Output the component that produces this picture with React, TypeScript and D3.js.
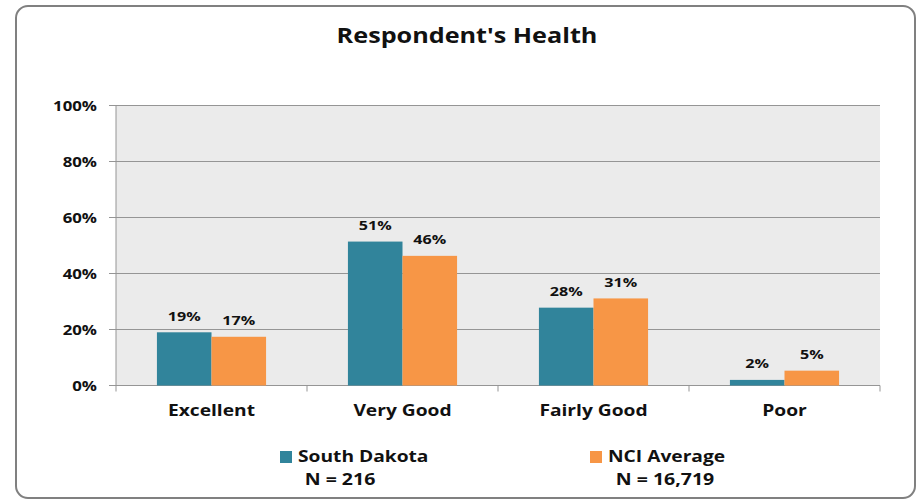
import * as d3 from 'd3';
import { useEffect, useRef } from 'react';

const categories = ['Excellent', 'Very Good', 'Fairly Good', 'Poor'];
const southDakota = [19, 51.4, 27.8, 2];
const nciAverage = [17.4, 46.3, 31.1, 5.3];
const seriesNames = ['South Dakota', 'NCI Average'];
const seriesN = ['N = 216', 'N = 16,719'];
const yTicks = [0, 20, 40, 60, 80, 100];

const colors = ['#31849b', '#f79646'];
const font = "'Open Sans', 'DejaVu Sans', sans-serif";

export default function App() {
  const ref = useRef<HTMLDivElement>(null);

  const width = 921;
  const height = 502;
  const marginTop = 105.5;
  const marginLeft = 116;
  const plotRight = 880;
  const plotBottom = 385.5;

  useEffect(() => {
    if (!ref.current) return;

    const svg = d3
      .create('svg')
      .attr('width', width)
      .attr('height', height)
      .style('display', 'block')
      .style('font-family', font);

    // 横に少し伸ばした太字テキスト
    const label = (
      parent: d3.Selection<any, any, any, any>,
      x: number,
      y: number,
      str: string,
      size: number,
      anchor = 'middle',
      sx = 1.2
    ) =>
      parent
        .append('text')
        .attr('transform', `translate(${x},${y}) scale(${sx},1)`)
        .attr('text-anchor', anchor)
        .attr('font-size', size)
        .attr('font-weight', 'bold')
        .attr('fill', '#111')
        .text(str);

    // 外枠
    svg
      .append('rect')
      .attr('x', 16)
      .attr('y', 6)
      .attr('width', 899)
      .attr('height', 492)
      .attr('rx', 12)
      .attr('fill', '#fff')
      .attr('stroke', '#808080')
      .attr('stroke-width', 2);

    // タイトル
    label(svg, 467, 43, "Respondent's Health", 21);

    const x = d3.scaleBand().domain(categories).range([marginLeft, plotRight]);
    const x1 = d3
      .scaleBand()
      .domain(seriesNames)
      .range([0, x.bandwidth()])
      .paddingOuter(0.75)
      .paddingInner(0);

    const y = d3.scaleLinear().domain([0, 100]).range([plotBottom, marginTop]);

    // プロット背景
    svg
      .append('rect')
      .attr('x', marginLeft)
      .attr('y', marginTop)
      .attr('width', plotRight - marginLeft)
      .attr('height', plotBottom - marginTop)
      .attr('fill', '#ebebeb');

    // グリッド線
    svg
      .append('g')
      .selectAll('line')
      .data(yTicks)
      .join('line')
      .attr('x1', marginLeft - 7)
      .attr('x2', plotRight)
      .attr('y1', (d) => y(d))
      .attr('y2', (d) => y(d))
      .attr('stroke', '#959595')
      .attr('stroke-width', 1);

    // y軸ラベル
    const yg = svg.append('g');
    yTicks.forEach((t) => label(yg, 97, y(t) + 5, `${t}%`, 14, 'end'));

    // y軸線
    svg
      .append('line')
      .attr('x1', marginLeft)
      .attr('x2', marginLeft)
      .attr('y1', marginTop)
      .attr('y2', plotBottom)
      .attr('stroke', '#959595');

    // x軸の区切り目盛
    const bounds = categories.map((c) => x(c)!).concat([plotRight]);
    svg
      .append('g')
      .selectAll('line')
      .data(bounds)
      .join('line')
      .attr('x1', (d) => d)
      .attr('x2', (d) => d)
      .attr('y1', plotBottom)
      .attr('y2', plotBottom + 6)
      .attr('stroke', '#959595');

    // カテゴリラベル
    const xg = svg.append('g');
    categories.forEach((c) => label(xg, x(c)! + x.bandwidth() / 2, 416, c, 16));

    // 棒グラフ
    const series = [southDakota, nciAverage];
    series.forEach((vals, si) => {
      const g = svg.append('g');
      g.selectAll('rect')
        .data(vals)
        .join('rect')
        .attr('x', (_, i) => x(categories[i])! + x1(seriesNames[si])!)
        .attr('y', (d) => y(d))
        .attr('width', x1.bandwidth())
        .attr('height', (d) => plotBottom - y(d))
        .attr('fill', colors[si]);

      vals.forEach((v, i) =>
        label(
          g,
          x(categories[i])! + x1(seriesNames[si])! + x1.bandwidth() / 2,
          y(v) - 11.5,
          `${Math.round(v)}%`,
          13,
          'middle',
          1.24
        )
      );
    });

    // 凡例
    const legendX = [280, 590];
    const nX = [340, 665];
    seriesNames.forEach((name, i) => {
      const lg = svg.append('g');
      lg.append('rect')
        .attr('x', legendX[i])
        .attr('y', 451)
        .attr('width', 12)
        .attr('height', 12)
        .attr('fill', colors[i]);
      label(lg, legendX[i] + 18, 462, name, 16, 'start');
      label(lg, nX[i], 485, seriesN[i], 16, 'middle', 1.22);
    });

    ref.current.innerHTML = '';
    ref.current.appendChild(svg.node()!);
  }, [ref]);

  return (
    <div
      ref={ref}
      style={{ position: 'absolute', left: 0, top: 0, width, height }}
    />
  );
}
